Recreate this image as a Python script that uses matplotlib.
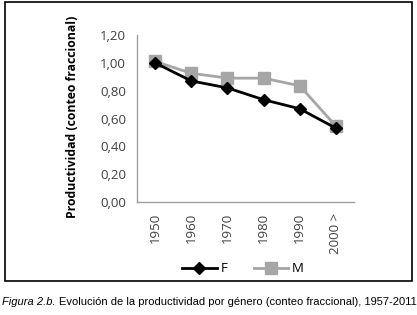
import matplotlib
matplotlib.use("Agg")
import matplotlib.pyplot as plt
from matplotlib.patches import Rectangle
from matplotlib import font_manager as fm

categories = ["1950", "1960", "1970", "1980", "1990", "2000 >"]
f_values = [1.00, 0.87, 0.82, 0.735, 0.67, 0.53]
m_values = [1.01, 0.925, 0.89, 0.89, 0.835, 0.545]
yticks = [0.0, 0.2, 0.4, 0.6, 0.8, 1.0, 1.2]

names = {f.name for f in fm.fontManager.ttflist}
body_font = "Open Sans" if "Open Sans" in names else "DejaVu Sans"
cap_font = "Liberation Sans Narrow" if "Liberation Sans Narrow" in names else "Liberation Sans"

W, H = 417, 315
fig = plt.figure(figsize=(W / 100, H / 100), dpi=100)
ax = fig.add_axes([137 / W, 1 - 202 / H, (354 - 137) / W, (202 - 35) / H])

x = list(range(len(categories)))
ax.plot(x, f_values, color="black", lw=2, marker="D", ms=6.5, label="F", zorder=3)
ax.plot(x, m_values, color="#a6a6a6", lw=2, marker="s", ms=8, label="M", zorder=2)

ax.set_xlim(-0.5, len(categories) - 0.5)
ax.set_ylim(0, 1.2)
ax.set_yticks(yticks)
ax.set_yticklabels([f"{v:.2f}".replace(".", ",") for v in yticks],
                   fontsize=9.5, family=body_font, color="#404040")
ax.set_xticks(x)
ax.set_xticklabels(categories, rotation=90, fontsize=9.5, family=body_font, color="#404040")
ax.tick_params(length=0, pad=8)
for s in ["top", "right"]:
    ax.spines[s].set_visible(False)
for s in ["left", "bottom"]:
    ax.spines[s].set_color("#a0a0a0")
    ax.spines[s].set_linewidth(1)

fig.text(73 / W, 1 - 117 / H, "Productividad (conteo fraccional)", rotation=90,
         ha="center", va="center", fontsize=8.8, fontweight="bold", family=body_font)

leg = fig.legend(loc="center", bbox_to_anchor=(243 / W, 1 - 269 / H), ncol=2,
                 frameon=False, prop={"family": body_font, "size": 9.5},
                 handlelength=2.6, columnspacing=2.0, handletextpad=0.3)

fig.patches.append(Rectangle((5 / W, 1 - 281 / H), (412 - 5) / W, (281 - 2) / H,
                             transform=fig.transFigure, fill=False, ec="black", lw=1.2))

fig.canvas.draw()
r = fig.canvas.get_renderer()
cap_y = 1 - 302 / H
size = 9.5
t1 = fig.text(2 / W, cap_y, "Figura 2.b.", fontsize=size, style="italic",
              family=cap_font, va="center", ha="left")
t2 = fig.text(0, cap_y,
              "Evolución de la productividad por género (conteo fraccional), 1957-2011",
              fontsize=size, family=cap_font, va="center", ha="left")
def total_width():
    b1 = t1.get_window_extent(renderer=r)
    b2 = t2.get_window_extent(renderer=r)
    return b1.width + 3 + b2.width
w = total_width()
size = size * 413 / w
t1.set_fontsize(size)
t2.set_fontsize(size)
b1 = t1.get_window_extent(renderer=r)
t2.set_x((b1.x1 + 3) / W)

fig.savefig("out.png", dpi=100)
